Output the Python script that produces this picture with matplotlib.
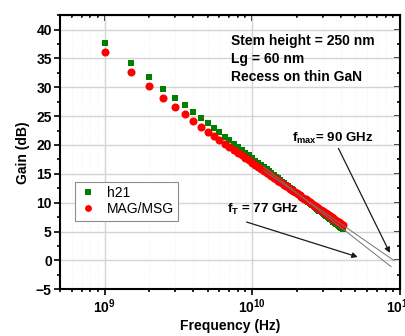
import numpy as np
import matplotlib
matplotlib.use("Agg")
import matplotlib.pyplot as plt
from matplotlib.ticker import FixedLocator, MultipleLocator, LogLocator, FuncFormatter, NullFormatter

plt.rcParams["font.family"] = ["Liberation Sans", "DejaVu Sans"]
plt.rcParams["mathtext.fontset"] = "custom"
plt.rcParams["mathtext.rm"] = "Liberation Sans"
plt.rcParams["mathtext.bf"] = "Liberation Sans:bold"
plt.rcParams["mathtext.it"] = "Liberation Sans:italic"

# measured frequency points, GHz (0.5 GHz step)
freq_ghz = np.arange(2, 83) / 2.0

h21_db = [
    37.73, 34.21, 31.71, 29.77, 28.19, 26.85, 25.69, 24.67, 23.75, 22.92,
    22.17, 21.47, 20.83, 20.23, 19.67, 19.14, 18.65, 18.18, 17.73, 17.31,
    16.90, 16.52, 16.15, 15.79, 15.45, 15.12, 14.81, 14.50, 14.21, 13.92,
    13.65, 13.38, 13.12, 12.87, 12.62, 12.39, 12.16, 11.93, 11.71, 11.49,
    11.29, 11.08, 10.88, 10.69, 10.50, 10.31, 10.13, 9.95, 9.77, 9.60,
    9.43, 9.27, 9.10, 8.94, 8.79, 8.63, 8.48, 8.33, 8.19, 8.04,
    7.90, 7.76, 7.63, 7.49, 7.36, 7.23, 7.10, 6.97, 6.85, 6.73,
    6.60, 6.48, 6.37, 6.25, 6.13, 6.02, 5.91, 5.80, 5.69, 5.58,
    5.47,
]

mag_db = [
    36.08, 32.61, 30.16, 28.07, 26.57, 25.35, 24.19, 23.17, 22.25, 21.52,
    20.86, 20.24, 19.67, 19.14, 18.65, 18.18, 17.75, 17.33, 16.94, 16.57,
    16.20, 15.87, 15.54, 15.22, 14.92, 14.63, 14.36, 14.09, 13.83, 13.57,
    13.34, 13.10, 12.87, 12.65, 12.43, 12.23, 12.02, 11.82, 11.62, 11.43,
    11.25, 11.07, 10.89, 10.73, 10.56, 10.39, 10.23, 10.07, 9.91, 9.76,
    9.61, 9.47, 9.32, 9.18, 9.05, 8.91, 8.77, 8.64, 8.52, 8.39,
    8.26, 8.14, 8.02, 7.90, 7.79, 7.67, 7.56, 7.44, 7.34, 7.23,
    7.11, 7.01, 6.91, 6.81, 6.70, 6.60, 6.51, 6.41, 6.31, 6.22,
    6.12,
]

# extrapolations used to read fT and fmax
ft_fit_freq = [12e9, 87e9]
ft_fit_gain = [16.15, -1.06]
fmax_fit_freq = [12e9, 91e9]
fmax_fit_gain = [15.56, 0.0]

freq_hz = freq_ghz * 1e9

fig = plt.figure(figsize=(4.06, 3.36), dpi=100)
ax = fig.add_axes([0.148, 0.139, 0.837, 0.816])

ax.plot(freq_hz, h21_db, "s", color="#008000", ms=5.0, mew=0, label="h21", zorder=3)
ax.plot(freq_hz, mag_db, "o", color="#ff0000", ms=5.8, mew=0, label="MAG/MSG", zorder=3)
ax.plot(ft_fit_freq, ft_fit_gain, color="0.45", lw=0.7, zorder=4)
ax.plot(fmax_fit_freq, fmax_fit_gain, color="0.45", lw=0.7, zorder=4)

ax.set_xscale("log")
ax.set_xlim(5e8, 1e11)
ax.set_ylim(-5, 42.5)

ax.xaxis.set_major_locator(FixedLocator([1e9, 1e10, 1e11]))
ax.xaxis.set_minor_locator(LogLocator(base=10, subs=np.arange(2, 10)))
ax.xaxis.set_major_formatter(FuncFormatter(
    lambda v, p: r"$\mathbf{10^{%d}}$" % int(round(np.log10(v)))))
ax.xaxis.set_minor_formatter(NullFormatter())
ax.yaxis.set_major_locator(MultipleLocator(5))
ax.yaxis.set_minor_locator(MultipleLocator(2.5))

ax.grid(True, which="major", color="#d4d4d4", lw=1.0, zorder=0)
ax.grid(True, which="minor", axis="x", color="#f0f0f0", lw=0.6, ls=":", zorder=0)
ax.set_axisbelow(True)

for s in ax.spines.values():
    s.set_linewidth(1.5)
ax.tick_params(which="both", direction="out", top=False, right=False, width=1.2)
ax.tick_params(which="major", length=4, labelsize=10, pad=2)
ax.tick_params(which="minor", length=2.5)
for lab in ax.get_yticklabels():
    lab.set_fontweight("bold")

# inward ticks on top and right edges
top = ax.secondary_xaxis("top")
top.xaxis.set_major_locator(FixedLocator([1e9, 1e10, 1e11]))
top.xaxis.set_minor_locator(LogLocator(base=10, subs=np.arange(2, 10)))
right = ax.secondary_yaxis("right")
right.yaxis.set_major_locator(MultipleLocator(5))
right.yaxis.set_minor_locator(MultipleLocator(2.5))
for sec in (top, right):
    sec.tick_params(which="both", direction="in", labeltop=False, labelright=False, width=1.2)
    sec.tick_params(which="major", length=4)
    sec.tick_params(which="minor", length=2.5)

ax.set_xlabel("Frequency (Hz)", fontsize=10, fontweight="bold")
ax.xaxis.set_label_coords(0.5, -0.108)
ax.set_ylabel("Gain (dB)", fontsize=10, fontweight="bold", labelpad=4)

for yv, txt in zip([38.0, 34.9, 31.8], ["Stem height = 250 nm", "Lg = 60 nm", "Recess on thin GaN"]):
    ax.text(7.2e9, yv, txt, fontsize=10, fontweight="bold", va="center", ha="left")

ax.annotate(r"$\mathbf{f_{max}}$= 90 GHz", xy=(8.55e10, 1.3), xytext=(1.87e10, 21.2),
            fontsize=9.5, fontweight="bold", va="center", ha="left",
            arrowprops=dict(arrowstyle="-|>", color="0.1", lw=0.9, mutation_scale=8,
                            shrinkA=0, shrinkB=0, relpos=(0.55, 0)))
ax.annotate(r"$\mathbf{f_T}$ = 77 GHz", xy=(5.18e10, 0.6), xytext=(6.76e9, 8.75),
            fontsize=9.5, fontweight="bold", va="center", ha="left",
            arrowprops=dict(arrowstyle="-|>", color="0.1", lw=0.9, mutation_scale=8,
                            shrinkA=0, shrinkB=0, relpos=(0.27, -0.3)))

leg = ax.legend(loc="upper left", bbox_to_anchor=(0.044, 0.391), borderaxespad=0,
                fancybox=False, edgecolor="0.55", framealpha=1, fontsize=10,
                handletextpad=0.8, borderpad=0.3, labelspacing=0.15, handlelength=1.2,
                markerscale=0.85)
leg.get_frame().set_linewidth(0.8)

fig.savefig("out.png", dpi=100)
